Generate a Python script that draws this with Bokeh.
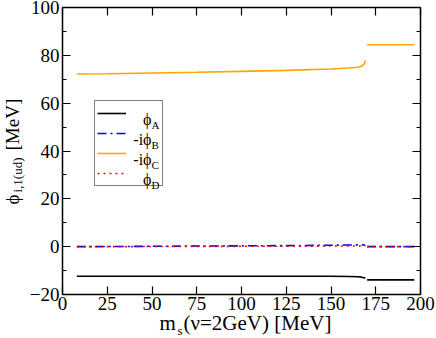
from bokeh.plotting import figure
from bokeh.models import (LinearAxis, SingleIntervalTicker, Legend, LegendItem,
                          Label, Range1d, CustomJSTickFormatter)
from bokeh.embed import file_html
from bokeh.resources import INLINE
import math

# ---- data ----
ms_low = [8, 25, 50, 75, 100, 125, 150, 160, 165, 167, 168.5, 169.2]
phiA_low = [-12.35, -12.35, -12.35, -12.35, -12.35, -12.4, -12.4, -12.45, -12.55, -12.75, -13.0, -13.2]
phiB_low = [0.0, 0.05, 0.15, 0.25, 0.35, 0.45, 0.6, 0.7, 0.75, 0.75, 0.7, 0.7]
phiC_low = [72.2, 72.3, 72.6, 72.9, 73.3, 73.7, 74.3, 74.7, 75.0, 75.4, 76.3, 77.8]
phiD_low = [0.0, 0.02, 0.05, 0.1, 0.15, 0.2, 0.25, 0.3, 0.3, 0.3, 0.3, 0.3]

ms_high = [170.2, 180, 190, 196.5]
phiA_high = [-13.9, -13.9, -13.9, -13.9]
phiB_high = [0.0, 0.0, 0.0, 0.0]
phiC_high = [84.4, 84.4, 84.4, 84.4]
phiD_high = [0.0, 0.0, 0.0, 0.0]

legend_main = ["ϕ", "-iϕ", "-iϕ", "ϕ"]
legend_sub = ["A", "B", "C", "D"]

X_MIN, X_MAX = 0, 200
Y_MIN, Y_MAX = -20, 100

FONT = "Liberation Serif"
W, H = 436, 338
# plot box inside the canvas (pixels): left, right, top, bottom
BL, BR, BT, BB = 62, 420, 7, 294
sx = (BR - BL) / (X_MAX - X_MIN)
sy = (BB - BT) / (Y_MAX - Y_MIN)
x_range = Range1d(X_MIN - BL / sx, X_MAX + (W - BR) / sx)
y_range = Range1d(Y_MIN - (H - BB) / sy, Y_MAX + BT / sy)

p = figure(width=W, height=H, x_range=x_range, y_range=y_range,
           output_backend="svg", toolbar_location=None,
           min_border_left=0, min_border_right=0, min_border_top=0, min_border_bottom=0)
p.xaxis.visible = False
p.yaxis.visible = False
p.grid.visible = False
p.outline_line_color = None
p.background_fill_color = "white"
p.border_fill_color = "white"

def mk_axis(kind, labels, loc):
    ax = LinearAxis(fixed_location=loc)
    if kind == "x":
        ax.ticker = SingleIntervalTicker(interval=25, num_minor_ticks=0)
        ax.bounds = (X_MIN, X_MAX)
    else:
        ax.ticker = SingleIntervalTicker(interval=20, num_minor_ticks=2)
        ax.bounds = (Y_MIN, Y_MAX)
    ax.major_tick_in = 8
    ax.major_tick_out = 0
    ax.minor_tick_in = 4
    ax.minor_tick_out = 0
    ax.major_tick_line_color = "black"
    ax.minor_tick_line_color = "black"
    ax.major_tick_line_width = 1.2
    ax.minor_tick_line_width = 1.2
    ax.axis_line_color = "black"
    ax.axis_line_width = 1.5
    ax.major_label_text_font = FONT
    ax.major_label_text_font_size = "19px"
    ax.major_label_text_color = "black"
    ax.major_label_standoff = 2 if kind == "x" else 3
    if not labels:
        ax.formatter = CustomJSTickFormatter(code="return ''")
    return ax

p.add_layout(mk_axis("x", True, Y_MIN), "below")
p.add_layout(mk_axis("x", False, Y_MAX), "above")
p.add_layout(mk_axis("y", True, X_MIN), "left")
p.add_layout(mk_axis("y", False, X_MAX), "right")

lw = 1.6
rA = p.line(ms_low, phiA_low, color="black", line_width=lw)
p.line(ms_high, phiA_high, color="black", line_width=lw)
rB = p.line(ms_low, phiB_low, color="blue", line_width=lw, line_dash="9 4 2 4")
p.line(ms_high, phiB_high, color="blue", line_width=lw, line_dash="9 4 2 4")
rC = p.line(ms_low, phiC_low, color="orange", line_width=lw)
p.line(ms_high, phiC_high, color="orange", line_width=lw)
rD = p.line(ms_low, phiD_low, color="red", line_width=lw, line_dash="2 4")
p.line(ms_high, phiD_high, color="red", line_width=lw, line_dash="2 4")

legend = Legend(items=[LegendItem(label=" ", renderers=[r]) for r in (rA, rB, rC, rD)],
                location=(94, 152), glyph_width=29, glyph_height=20, label_height=20,
                label_width=29, label_standoff=5, spacing=0, padding=2, margin=0,
                border_line_color="black", border_line_width=1.5,
                label_text_font_size="6px", background_fill_color=None)
p.add_layout(legend, "center")

def lab(x, y, text, size, angle=0.0, align="left"):
    # x, y: pixels from the canvas' bottom-left corner (the frame fills the canvas)
    p.add_layout(Label(x=x, y=y, x_units="screen", y_units="screen", text=text,
                       text_font=FONT, text_font_size=size, angle=angle,
                       text_align=align, text_baseline="alphabetic", text_color="black"))

# legend texts
for i, (m, s) in enumerate(zip(legend_main, legend_sub)):
    yb = 219 - 20 * i
    lab(151, yb, m, "16px", align="right")
    lab(151, yb - 5, s, "11px")

# x axis label: m_s(v=2GeV) [MeV]
lab(159, 16, "m", "21px")
lab(177, 8, "s", "13px")
lab(183, 16, "(ν=2GeV) [MeV]", "21px")

# y axis label: phi_{i,1(ud)} [MeV]  (rotated)
ang = math.pi / 2
lab(12, 134, "ϕ", "19px", angle=ang)
lab(17, 146, "i,1(ud)", "13px", angle=ang)
lab(12, 188, "[MeV]", "19px", angle=ang)

open("out.html", "w").write(file_html(p, INLINE))
